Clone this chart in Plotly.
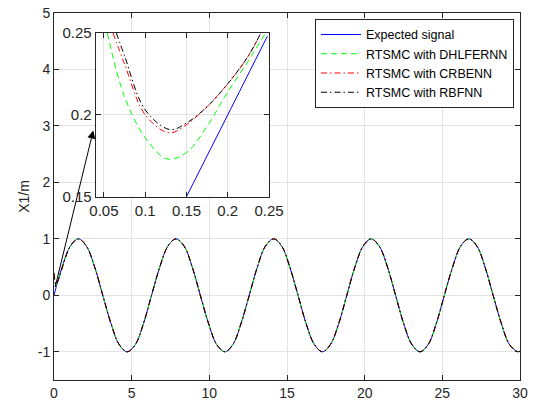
import plotly.graph_objects as go

# ---- main plot data (time in s, X1 in m) ----
t_exp = [0.00, 0.52, 1.05, 1.57, 2.09, 2.62, 3.14, 3.67, 4.19, 4.71, 5.24, 5.76,
         6.28, 6.81, 7.33, 7.85, 8.38, 8.90, 9.42, 9.95, 10.47, 11.00, 11.52, 12.04,
         12.57, 13.09, 13.61, 14.14, 14.66, 15.18, 15.71, 16.23, 16.76, 17.28, 17.80, 18.33,
         18.85, 19.37, 19.90, 20.42, 20.94, 21.47, 21.99, 22.51, 23.04, 23.56, 24.09, 24.61,
         25.13, 25.66, 26.18, 26.70, 27.23, 27.75, 28.27, 28.80, 29.32, 29.85, 30.00]
x_exp = [0.00, 0.50, 0.87, 1.00, 0.87, 0.50, 0.00, -0.50, -0.87, -1.00, -0.87, -0.50,
         0.00, 0.50, 0.87, 1.00, 0.87, 0.50, 0.00, -0.50, -0.87, -1.00, -0.87, -0.50,
         0.00, 0.50, 0.87, 1.00, 0.87, 0.50, 0.00, -0.50, -0.87, -1.00, -0.87, -0.50,
         0.00, 0.50, 0.87, 1.00, 0.87, 0.50, 0.00, -0.50, -0.87, -1.00, -0.87, -0.50,
         0.00, 0.50, 0.87, 1.00, 0.87, 0.50, 0.00, -0.50, -0.87, -1.00, -0.99]

# initial transient of the controllers (then they follow the expected signal)
t_start = [0.00, 0.06, 0.13, 0.25]
x_start_dhl = [0.39, 0.26, 0.173, 0.24]
x_start_crb = [0.39, 0.25, 0.189, 0.25]
x_start_rbf = [0.39, 0.25, 0.191, 0.25]

# ---- inset (zoom) data ----
zi_t_exp = [0.150, 0.200, 0.248]
zi_x_exp = [0.150, 0.200, 0.248]
zi_t_dhl = [0.054, 0.075, 0.100, 0.127, 0.150, 0.175, 0.200, 0.225, 0.246]
zi_x_dhl = [0.250, 0.211, 0.186, 0.173, 0.177, 0.193, 0.214, 0.233, 0.250]
zi_t_crb = [0.061, 0.075, 0.100, 0.129, 0.150, 0.175, 0.200, 0.225, 0.240]
zi_x_crb = [0.250, 0.231, 0.200, 0.189, 0.194, 0.205, 0.219, 0.236, 0.250]
zi_t_rbf = [0.065, 0.075, 0.100, 0.130, 0.150, 0.175, 0.200, 0.225, 0.240]
zi_x_rbf = [0.250, 0.236, 0.203, 0.191, 0.195, 0.205, 0.219, 0.236, 0.250]

# tick labels
main_xticks = [0, 5, 10, 15, 20, 25, 30]
main_yticks = [-1, 0, 1, 2, 3, 4, 5]
main_yticklabels = ["-1", "0", "1", "2", "3", "4", "5"]
zoom_xticks = [0.05, 0.1, 0.15, 0.2, 0.25]
zoom_yticks = [0.15, 0.2, 0.25]

names = ["Expected signal", "RTSMC with DHLFERNN", "RTSMC with CRBENN", "RTSMC with RBFNN"]
colors = ["#0000ff", "#00ff00", "#ff0000", "#000000"]
dashes = ["solid", "6px,4px", "6px,3px,1.5px,3px", "6px,3px,1.5px,3px"]

main_t = [t_exp,
          t_start + t_exp[2:],
          t_start + t_exp[2:],
          t_start + t_exp[2:]]
main_x = [x_exp,
          x_start_dhl + x_exp[2:],
          x_start_crb + x_exp[2:],
          x_start_rbf + x_exp[2:]]
zoom_t = [zi_t_exp, zi_t_dhl, zi_t_crb, zi_t_rbf]
zoom_x = [zi_x_exp, zi_x_dhl, zi_x_crb, zi_x_rbf]

fig = go.Figure()
for i in range(4):
    fig.add_trace(go.Scatter(x=main_t[i], y=main_x[i], mode="lines", name=names[i],
                             line=dict(color=colors[i], width=1, dash=dashes[i], shape="spline"),
                             xaxis="x", yaxis="y"))
for i in range(4):
    fig.add_trace(go.Scatter(x=zoom_t[i], y=zoom_x[i], mode="lines", name=names[i],
                             showlegend=False,
                             line=dict(color=colors[i], width=1, dash=dashes[i], shape="spline"),
                             xaxis="x2", yaxis="y2"))

axcol = "#262626"
gridcol = "#e3e3e3"
font = dict(family="Liberation Sans, Arial, sans-serif", size=14, color=axcol)
font_in = dict(family="Liberation Sans, Arial, sans-serif", size=15, color=axcol)

common = dict(showline=True, linecolor=axcol, linewidth=1, mirror="ticks",
              ticks="inside", ticklen=5, tickcolor=axcol, showgrid=True,
              gridcolor=gridcol, gridwidth=1, zeroline=False, automargin=False)

fig.update_layout(
    width=536, height=408,
    margin=dict(l=54, r=16, t=13, b=28, autoexpand=False),
    paper_bgcolor="white", plot_bgcolor="white",
    font=font,
    xaxis=dict(range=[0, 30], tickvals=main_xticks, domain=[0, 1],
               anchor="y", tickfont=font, **common),
    yaxis=dict(range=[-1.5, 5], tickvals=main_yticks, ticktext=main_yticklabels,
               domain=[0, 1], anchor="x", tickfont=font,
               title=dict(text="X1/m", font=font, standoff=4), **common),
    xaxis2=dict(range=[0.04, 0.25], tickvals=zoom_xticks,
                domain=[0.0895, 0.4614], anchor="y2", tickfont=font_in, **common),
    yaxis2=dict(range=[0.15, 0.25], tickvals=zoom_yticks,
                domain=[0.4995, 0.9455], anchor="x2", tickfont=font_in, **common),
    legend=dict(x=0.987, y=0.984, xanchor="right", yanchor="top",
                bgcolor="white", bordercolor=axcol, borderwidth=1,
                font=dict(family="Liberation Sans, Arial, sans-serif", size=12.5, color="#000000"),
                tracegroupgap=0, itemwidth=40),
    showlegend=True,
)

fig.add_annotation(x=2.53, y=2.92, xref="x", yref="y",
                   ax=0.05, ay=0.12, axref="x", ayref="y",
                   text="", showarrow=True, arrowhead=2, arrowsize=1.6,
                   arrowwidth=1, arrowcolor="#000000")

fig.write_html("out.html")
